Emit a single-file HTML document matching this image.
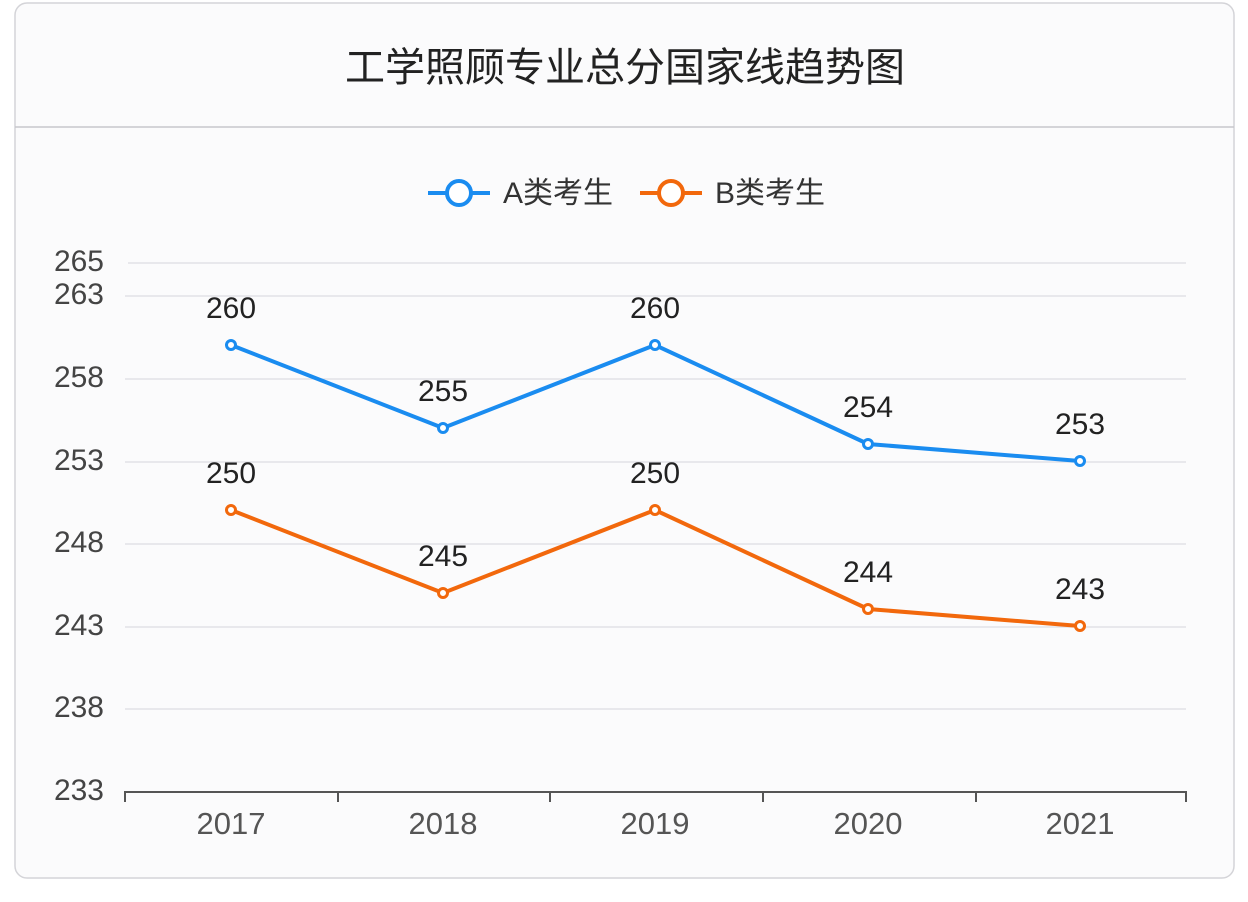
<!DOCTYPE html>
<html><head><meta charset="utf-8"><style>
html,body{margin:0;padding:0;background:#fff;width:1248px;height:902px;overflow:hidden}
svg{display:block;font-family:"Liberation Sans","Noto Sans CJK SC",sans-serif}
</style></head><body>
<svg width="1248" height="902" viewBox="0 0 1248 902">
<rect x="15" y="3" width="1219" height="875" rx="12" fill="#fbfbfc" stroke="#d4d4d8" stroke-width="1.5"/>
<line x1="15" y1="127" x2="1234" y2="127" stroke="#c8c8cc" stroke-width="1.5"/>
<text x="625" y="81" text-anchor="middle" font-size="40" fill="#222">工学照顾专业总分国家线趋势图</text>
<g stroke-width="4" fill="#fff">
<line x1="428" y1="193" x2="490" y2="193" stroke="#1a8cf0"/>
<circle cx="459" cy="193" r="12" stroke="#1a8cf0"/>
<line x1="640" y1="193" x2="702" y2="193" stroke="#f2680c"/>
<circle cx="671" cy="193" r="12" stroke="#f2680c"/>
</g>
<g font-size="30" fill="#333">
<text x="503" y="203">A类考生</text>
<text x="715" y="203">B类考生</text>
</g>
<g stroke="#dcdce2" stroke-width="1.2">
<line x1="128" y1="263" x2="1186" y2="263"/>
<line x1="125" y1="296" x2="1186" y2="296"/>
<line x1="125" y1="379" x2="1186" y2="379"/>
<line x1="125" y1="462" x2="1186" y2="462"/>
<line x1="125" y1="544" x2="1186" y2="544"/>
<line x1="125" y1="627" x2="1186" y2="627"/>
<line x1="125" y1="709" x2="1186" y2="709"/>
</g>
<g font-size="30" fill="#444" text-anchor="end">
<text x="104" y="271">265</text>
<text x="104" y="304">263</text>
<text x="104" y="387">258</text>
<text x="104" y="470">253</text>
<text x="104" y="552">248</text>
<text x="104" y="635">243</text>
<text x="104" y="717">238</text>
<text x="104" y="800">233</text>
</g>
<g stroke="#555" stroke-width="2" fill="none">
<line x1="124" y1="792" x2="1187" y2="792"/>
<line x1="125" y1="791" x2="125" y2="802"/>
<line x1="338" y1="791" x2="338" y2="802"/>
<line x1="550" y1="791" x2="550" y2="802"/>
<line x1="763" y1="791" x2="763" y2="802"/>
<line x1="976" y1="791" x2="976" y2="802"/>
<line x1="1186" y1="791" x2="1186" y2="802"/>
</g>
<g font-size="31" fill="#555" text-anchor="middle">
<text x="231" y="834">2017</text>
<text x="443" y="834">2018</text>
<text x="655" y="834">2019</text>
<text x="868" y="834">2020</text>
<text x="1080" y="834">2021</text>
</g>
<polyline points="231,345 443,428 655,345 868,444 1080,461" fill="none" stroke="#1a8cf0" stroke-width="4"/>
<polyline points="231,510 443,593 655,510 868,609 1080,626" fill="none" stroke="#f2680c" stroke-width="4"/>
<g fill="#fff" stroke="#1a8cf0" stroke-width="3">
<circle cx="231" cy="345" r="4.5"/><circle cx="443" cy="428" r="4.5"/><circle cx="655" cy="345" r="4.5"/><circle cx="868" cy="444" r="4.5"/><circle cx="1080" cy="461" r="4.5"/>
</g>
<g fill="#fff" stroke="#f2680c" stroke-width="3">
<circle cx="231" cy="510" r="4.5"/><circle cx="443" cy="593" r="4.5"/><circle cx="655" cy="510" r="4.5"/><circle cx="868" cy="609" r="4.5"/><circle cx="1080" cy="626" r="4.5"/>
</g>
<g font-size="30" fill="#222" text-anchor="middle">
<text x="231" y="318">260</text><text x="443" y="401">255</text><text x="655" y="318">260</text><text x="868" y="417">254</text><text x="1080" y="434">253</text>
<text x="231" y="483">250</text><text x="443" y="566">245</text><text x="655" y="483">250</text><text x="868" y="582">244</text><text x="1080" y="599">243</text>
</g>
</svg>
</body></html>
